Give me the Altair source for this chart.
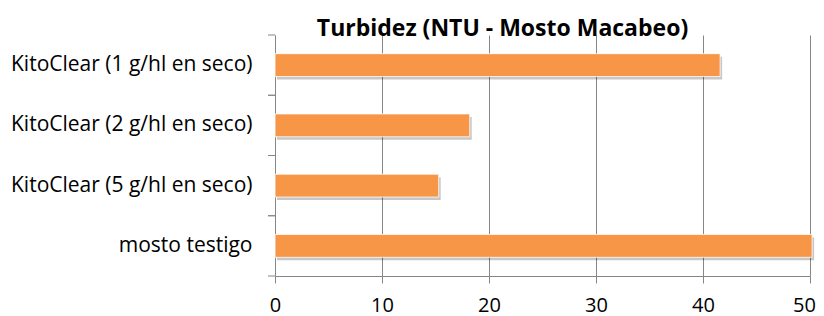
import altair as alt
import pandas as pd

categories = [
    "KitoClear (1 g/hl en seco)",
    "KitoClear (2 g/hl en seco)",
    "KitoClear (5 g/hl en seco)",
    "mosto testigo",
]
values = [41.6, 18.2, 15.3, 50.2]
x_ticks = [0, 10, 20, 30, 40, 50]

df = pd.DataFrame({"cat": categories, "val": values})

FONT = "Open Sans"
GRID = "#868686"
ORANGE = "#F79646"

yscale = alt.Scale(paddingInner=0, paddingOuter=0)
xscale = alt.Scale(domain=[0, 50], nice=False)

base = alt.Chart(df)

shadow = base.mark_bar(
    color="#000000", opacity=0.22, height=alt.RelativeBandSize(0.38),
    xOffset=2, yOffset=3, clip=False,
).encode(
    x=alt.X("val:Q", scale=xscale, title=None,
            axis=alt.Axis(
                values=x_ticks,
                labelOffset={"condition": {"test": "datum.value == 50", "value": -6}, "value": 0},
            )),
    y=alt.Y("cat:N", sort=categories, scale=yscale, title=None),
)

bars = base.mark_bar(
    color=ORANGE, height=alt.RelativeBandSize(0.38), clip=False,
    stroke="#FFFFFF", strokeWidth=0.8,
).encode(
    x=alt.X("val:Q", scale=xscale, title=None),
    y=alt.Y("cat:N", sort=categories, scale=yscale, title=None),
)

ticks_top = base.mark_rule(color=GRID, strokeWidth=1).encode(
    y=alt.Y("cat:N", sort=categories, scale=yscale, title=None, bandPosition=0),
    x=alt.value(-7),
    x2=alt.value(0),
)
ticks_bot = base.mark_rule(color=GRID, strokeWidth=1).encode(
    y=alt.Y("cat:N", sort=categories, scale=yscale, title=None, bandPosition=1),
    x=alt.value(-7),
    x2=alt.value(0),
)

chart = alt.layer(shadow, bars, ticks_top, ticks_bot).properties(
    width=535,
    height=241,
    autosize=alt.AutoSizeParams(type="none"),
    padding={"left": 267, "top": 27, "right": 6, "bottom": 40},
    title=alt.TitleParams(
        "Turbidez (NTU - Mosto Macabeo)",
        font=FONT, fontSize=23, fontWeight="bold", color="#000000",
        anchor="middle", dx=-40, offset=0, dy=6,
    ),
).configure_view(
    stroke=None
).configure_axisX(
    grid=True, gridColor=GRID, gridWidth=1,
    domainColor=GRID, tickColor=GRID, tickSize=7,
    labelFont=FONT, labelFontSize=20, labelColor="#000000",
    labelPadding=12, labelFlush=False,
).configure_axisY(
    grid=False, domainColor=GRID, ticks=False, tickSize=0,
    labelFont=FONT, labelFontSize=21, labelColor="#000000",
    labelPadding=23, labelLimit=400,
)

chart.save("out.html", embed_options={"renderer": "svg", "actions": False})
